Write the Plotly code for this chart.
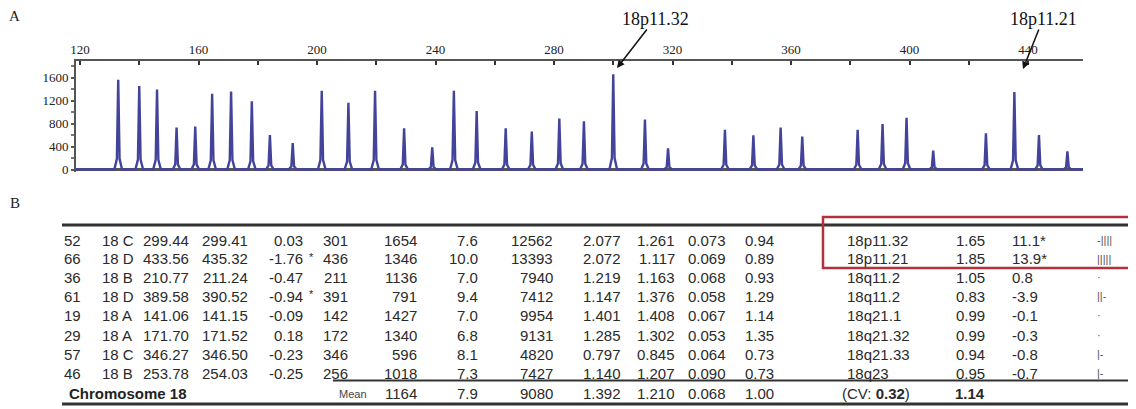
import plotly.graph_objects as go

# the page body has an 8px default margin; the figure is sized to fill the rest of the window
OFF = 8
W, H = 1136 - OFF, 409 - OFF

# ---------------- Panel A data (fragment size in bp, peak height) ----------------
peak_size = [132.9, 140.0, 146.0, 152.6, 158.9, 164.6, 171.0, 178.0, 184.1, 191.8,
             201.6, 210.6, 219.6, 229.4, 238.9, 246.2, 253.9, 263.7, 272.5, 281.8,
             290.1, 300.0, 310.7, 318.5, 337.7, 347.3, 356.5, 363.8, 382.5, 390.9,
             399.0, 408.0, 425.8, 435.4, 443.7, 453.3]
peak_height = [1560, 1450, 1390, 730, 745, 1315, 1355, 1185, 600, 460,
               1370, 1160, 1370, 715, 385, 1370, 1018, 715, 660, 885,
               840, 1654, 870, 370, 690, 596, 730, 575, 690, 791,
               900, 330, 630, 1346, 600, 315]
x_ticks = [120, 160, 200, 240, 280, 320, 360, 400, 440]
y_ticks = [0, 400, 800, 1200, 1600]
arrow_labels = ["18p11.32", "18p11.21"]

# ---------------- Panel B data ----------------
probe_no = ["52", "66", "36", "61", "19", "29", "57", "46"]
probe_grp = ["18 C", "18 D", "18 B", "18 D", "18 A", "18 A", "18 C", "18 B"]
size_ref = ["299.44", "433.56", "210.77", "389.58", "141.06", "171.70", "346.27", "253.78"]
size_obs = ["299.41", "435.32", "211.24", "390.52", "141.15", "171.52", "346.50", "254.03"]
size_diff = ["0.03", "-1.76", "-0.47", "-0.94", "-0.09", "0.18", "-0.23", "-0.25"]
diff_flag = ["", "*", "", "*", "", "", "", ""]
length_bp = ["301", "436", "211", "391", "142", "172", "346", "256"]
height_tab = ["1654", "1346", "1136", "791", "1427", "1340", "596", "1018"]
width_tab = ["7.6", "10.0", "7.0", "9.4", "7.0", "6.8", "8.1", "7.3"]
area_tab = ["12562", "13393", "7940", "7412", "9954", "9131", "4820", "7427"]
ratio_a = ["2.077", "2.072", "1.219", "1.147", "1.401", "1.285", "0.797", "1.140"]
ratio_b = ["1.261", "1.117", "1.163", "1.376", "1.408", "1.302", "0.845", "1.207"]
sd_tab = ["0.073", "0.069", "0.068", "0.058", "0.067", "0.053", "0.064", "0.090"]
norm_tab = ["0.94", "0.89", "0.93", "1.29", "1.14", "1.35", "0.73", "0.73"]
band = ["18p11.32", "18p11.21", "18q11.2", "18q11.2", "18q21.1", "18q21.32", "18q21.33", "18q23"]
final_ratio = ["1.65", "1.85", "1.05", "0.83", "0.99", "0.99", "0.94", "0.95"]
score = ["11.1*", "13.9*", "0.8", "-3.9", "-0.1", "-0.3", "-0.8", "-0.7"]
mini_bar = ["-||||", "|||||", "·", "||-", "·", "·", "|-", "|-"]
summary_label = "Chromosome 18"
summary_vals = ["1164", "7.9", "9080", "1.392", "1.210", "0.068", "1.00"]
summary_cv = "0.32"
summary_ratio = "1.14"


def px(x):
    return (x - OFF) / W


def py(y):
    return 1 - (y - OFF) / H


# axis calibration (pixel geometry of panel A, in window pixels)
X0_PX, X1_PX = 76, 1083
Y_TOP_PX, Y_BOT_PX = 61, 172
PX_PER_BP = 2.9625
PX_PER_UNIT = 0.0575
ZERO_PX = 169.5
x_range = [120 + (X0_PX - 80) / PX_PER_BP, 120 + (X1_PX - 80) / PX_PER_BP]
y_range = [-(Y_BOT_PX - ZERO_PX) / PX_PER_UNIT, (ZERO_PX - Y_TOP_PX) / PX_PER_UNIT]

# build electropherogram trace from the peak list
half = 1.3
tx, ty = [x_range[0]], [0]
for s, h in zip(peak_size, peak_height):
    tx += [s - half, s - 0.45, s, s + 0.45, s + half]
    ty += [0, h * 0.12, h, h * 0.12, 0]
tx.append(x_range[1])
ty.append(0)

fig = go.Figure()
fig.add_trace(go.Scatter(x=tx, y=ty, mode="lines",
                         line=dict(color="#43439a", width=2.4),
                         hoverinfo="skip", showlegend=False))

fig.update_layout(
    width=W, height=H,
    margin=dict(l=0, r=0, t=0, b=0, autoexpand=False),
    paper_bgcolor="white", plot_bgcolor="white",
    showlegend=False,
    xaxis=dict(domain=[px(X0_PX), px(X1_PX)], range=x_range, side="top", automargin=False,
               tickvals=x_ticks, ticktext=[str(v) for v in x_ticks],
               showline=True, linecolor="#555", linewidth=2, mirror=False,
               ticks="inside", ticklen=4, tickcolor="#333", tickwidth=2,
               minor=dict(dtick=20, tick0=120, ticks="inside", ticklen=4, tickcolor="#333", tickwidth=2),
               showgrid=False, zeroline=False,
               tickfont=dict(family="Liberation Serif", size=13, color="#222")),
    yaxis=dict(domain=[py(Y_BOT_PX), py(Y_TOP_PX)], range=y_range, automargin=False,
               tickvals=y_ticks, ticktext=[str(v) for v in y_ticks],
               showline=True, linecolor="#555", linewidth=2,
               ticks="outside", ticklen=3, tickcolor="#555", tickwidth=2,
               minor=dict(dtick=200, tick0=0, ticks="outside", ticklen=3, tickcolor="#777", tickwidth=2),
               showgrid=False, zeroline=True, zerolinecolor="#555", zerolinewidth=2.5,
               tickfont=dict(family="Liberation Serif", size=13, color="#222")),
)

ann = []
# panel letters
ann.append(dict(x=px(8), y=py(16), xref="paper", yref="paper", text="A", showarrow=False,
                xanchor="left", yanchor="middle", borderpad=0,
                font=dict(family="Liberation Serif", size=15, color="#222")))
ann.append(dict(x=px(8), y=py(203), xref="paper", yref="paper", text="B", showarrow=False,
                xanchor="left", yanchor="middle",
                font=dict(family="Liberation Serif", size=15, color="#222")))

# arrows to the duplicated peaks
arrow_specs = [((617, 68), (655, 19)), ((1023, 69), (1043, 19))]
for lab, (head, txt) in zip(arrow_labels, arrow_specs):
    ann.append(dict(x=px(head[0]), y=py(head[1]), xref="paper", yref="paper",
                    ax=txt[0] - head[0], ay=txt[1] - head[1], axref="pixel", ayref="pixel",
                    text=lab, showarrow=True, arrowhead=2, arrowsize=1, arrowwidth=1.5,
                    arrowcolor="#111", borderpad=0,
                    font=dict(family="Liberation Serif", size=18, color="#111")))

# table text
row_y = [240, 258.5, 277, 296, 315, 335, 354, 373]
TF = dict(family="Liberation Sans", size=15, color="#2a2a2a")


def cell(x, y, text, anchor="right", font=None):
    ann.append(dict(x=px(x), y=py(y), xref="paper", yref="paper", text=text,
                    showarrow=False, xanchor=anchor, yanchor="middle",
                    font=font or TF))


cols_right = [(83, probe_no), (191, size_ref), (250, size_obs), (305, size_diff),
              (350, length_bp), (419, height_tab), (480, width_tab), (555, area_tab),
              (623, ratio_a), (677, ratio_b), (728, sd_tab), (776, norm_tab),
              (987, final_ratio)]
for i, yv in enumerate(row_y):
    for xr, arr in cols_right:
        cell(xr, yv, arr[i], "right")
    cell(100, yv, probe_grp[i], "left")
    if diff_flag[i]:
        cell(307, yv - 2, diff_flag[i], "left", dict(family="Liberation Sans", size=11, color="#2a2a2a"))
    cell(845, yv, band[i], "left")
    cell(1010, yv, score[i], "left")
    cell(1095, yv, mini_bar[i], "left", dict(family="Liberation Sans", size=11, color="#555"))

# summary row
sy = 393
cell(67, sy, "<b>" + summary_label + "</b>", "left", dict(family="Liberation Sans", size=15, color="#222"))
cell(337, sy + 1, "Mean", "left", dict(family="Liberation Sans", size=11, color="#444"))
for xr, v in zip([419, 480, 555, 623, 677, 728, 776], summary_vals):
    cell(xr, sy, v, "right")
cell(840, sy, "(CV: <b>" + summary_cv + "</b>)", "left")
cell(987, sy, "<b>" + summary_ratio + "</b>", "right")

fig.update_layout(annotations=ann)

# table rules and highlight box
shapes = [
    dict(type="line", xref="paper", yref="paper", x0=px(62), x1=px(1128), y0=py(225), y1=py(225),
         line=dict(color="#333", width=3)),
    dict(type="line", xref="paper", yref="paper", x0=px(333), x1=px(1128), y0=py(380.5), y1=py(380.5),
         line=dict(color="#333", width=2)),
    dict(type="line", xref="paper", yref="paper", x0=px(62), x1=px(1128), y0=py(404), y1=py(404),
         line=dict(color="#333", width=3)),
    dict(type="rect", xref="paper", yref="paper", x0=px(823), x1=px(1140), y0=py(217), y1=py(268),
         line=dict(color="#b3303d", width=2.5)),
]
fig.update_layout(shapes=shapes)

fig.write_html("out.html")
